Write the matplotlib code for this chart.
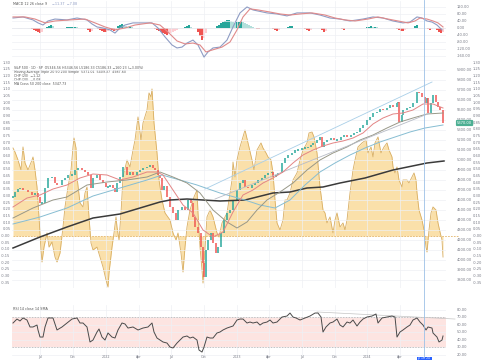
import numpy as np
import matplotlib
matplotlib.use("Agg")
import matplotlib.pyplot as plt
from matplotlib.lines import Line2D
from matplotlib.patches import Rectangle

# ---- data (day index ~ trading bar) ----
candle_day = [13, 15, 18, 20, 23, 28, 32, 35, 38, 40, 42, 45, 48, 52, 55, 57, 62, 65, 68, 72,
              75, 78, 82, 85, 88, 91, 93, 97, 100, 103, 106, 108, 110, 113, 115, 117, 120, 123, 127, 130,
              133, 137, 140, 143, 147, 150, 153, 155, 158, 160, 162, 164, 167, 170, 173, 176, 178, 182, 185, 188,
              191, 193, 195, 198, 201, 203, 204, 206, 208, 211, 213, 216, 218, 221, 224, 227, 230, 233, 237, 240,
              243, 245, 248, 252, 255, 258, 262, 265, 268, 272, 273, 276, 278, 282, 285, 288, 292, 295, 298, 302,
              305, 308, 311, 313, 317, 320, 322, 324, 327, 331, 334, 337, 341, 344, 347, 351, 354, 357, 360, 363,
              367, 370, 373, 377, 380, 383, 387, 390, 393, 397, 398, 399, 402, 403, 407, 410, 413, 417, 419, 422,
              425, 427, 428, 431, 433, 436, 438, 440, 443]
candle_close = [4630, 4680, 4710, 4720, 4700, 4680, 4650, 4670, 4630, 4570, 4570, 4720, 4820, 4830, 4770, 4750, 4800, 4820, 4850, 4850,
                4900, 4920, 4900, 4880, 4850, 4720, 4820, 4850, 4800, 4770, 4730, 4730, 4750, 4720, 4680, 4770, 4830, 4930, 4850, 4880,
                4850, 4880, 4900, 4920, 4930, 4950, 4920, 4900, 4850, 4820, 4700, 4740, 4630, 4530, 4470, 4400, 4500, 4530, 4500, 4600,
                4570, 4430, 4330, 4270, 4130, 3970, 3830, 4100, 4200, 4270, 4170, 4070, 4130, 4270, 4400, 4470, 4500, 4600, 4700, 4770,
                4800, 4730, 4720, 4750, 4770, 4800, 4820, 4850, 4870, 4880, 4830, 4850, 4870, 4970, 5020, 5050, 5070, 5100, 5100, 5120,
                5120, 5130, 5150, 5170, 5200, 5230, 5130, 5180, 5200, 5220, 5200, 5200, 5230, 5250, 5230, 5250, 5270, 5280, 5320, 5350,
                5400, 5430, 5470, 5480, 5510, 5500, 5520, 5550, 5530, 5570, 5580, 5380, 5450, 5500, 5520, 5530, 5570, 5680, 5670, 5630,
                5570, 5620, 5470, 5570, 5650, 5580, 5530, 5500, 5370]

ma20_day = [13, 27, 40, 53, 67, 80, 93, 107, 120, 133, 147, 157, 163, 173, 183, 193, 203, 213, 223, 233, 243,
            253, 263, 273, 283, 293, 303, 313, 323, 333, 343, 353, 363, 373, 383, 393, 403, 413, 423, 433, 443]
ma20 = [4530, 4620, 4650, 4710, 4750, 4820, 4860, 4850, 4800, 4830, 4880, 4880, 4850, 4700, 4550, 4470, 4300, 4230, 4280, 4480, 4650,
        4700, 4770, 4820, 4880, 4970, 5050, 5100, 5140, 5170, 5190, 5220, 5270, 5360, 5420, 5460, 5470, 5500, 5560, 5560, 5520]

ma50_day = [13, 33, 53, 67, 87, 107, 127, 147, 160, 173, 187, 200, 213, 227, 237, 247, 257, 267, 280, 293, 307,
            320, 333, 347, 360, 373, 387, 400, 413, 427, 443]
ma50 = [4420, 4520, 4600, 4630, 4750, 4780, 4800, 4830, 4880, 4830, 4770, 4670, 4500, 4380, 4320, 4380, 4500, 4600, 4680, 4770, 4900,
        5000, 5070, 5130, 5200, 5250, 5320, 5380, 5420, 5460, 5470]

ma100_day = [13, 40, 67, 93, 120, 147, 162, 180, 197, 220, 245, 260, 275, 290, 305, 320, 335, 350, 365, 380, 395, 410, 425, 443]
ma100 = [4360, 4430, 4520, 4640, 4720, 4800, 4850, 4800, 4750, 4670, 4600, 4550, 4520, 4600, 4750, 4880, 4970, 5050, 5120, 5180,
         5230, 5280, 5320, 5350]

ma200_day = [13, 40, 67, 93, 120, 140, 160, 170, 187, 203, 220, 245, 257, 273, 290, 307, 323, 340, 365, 393, 427, 444]
ma200 = [4120, 4230, 4330, 4420, 4460, 4520, 4580, 4600, 4610, 4600, 4590, 4600, 4630, 4670, 4680, 4720, 4730, 4770, 4820, 4900,
         4970, 4990]

chan_up_day = [205, 432]
chan_up = [4710, 5780]
chan_mid_day = [215, 430]
chan_mid = [4610, 5470]

osc_day = [13, 15, 18, 21, 23, 25, 28, 32, 33, 35, 37, 39, 41, 42, 44, 47, 49, 52, 55, 57, 60, 63, 65, 68, 71, 73, 74, 76, 77, 80,
           83, 85, 87, 89, 91, 93, 97, 100, 103, 106, 108, 109, 112, 114, 116, 117, 119, 121, 123, 127, 130, 133, 135, 138, 141, 143,
           147, 149, 151, 152, 154, 157, 159, 162, 165, 170, 173, 176, 178, 181, 183, 185, 187, 190, 194, 197, 198, 200, 202, 203,
           205, 207, 210, 213, 217, 219, 222, 225, 227, 229, 232, 233, 235, 237, 240, 243, 245, 248, 252, 254, 257, 261, 263, 266,
           268, 271, 273, 275, 277, 280, 283, 285, 287, 290, 293, 297, 300, 303, 307, 309, 312, 314, 317, 320, 323, 325, 327, 330,
           333, 335, 337, 340, 343, 345, 347, 350, 353, 355, 358, 362, 366, 368, 371, 373, 375, 378, 381, 384, 387, 389, 392, 393,
           395, 397, 399, 402, 403, 407, 409, 412, 414, 416, 417, 419, 422, 424, 426, 427, 429, 431, 433, 436, 438, 440, 442, 443]
osc_val = [0.66, 0.63, 0.57, 0.495, 0.668, 0.548, 0.495, 0.57, 0.593, 0.495, 0.368, 0.143, -0.105, -0.195, -0.083, 0.023, -0.083,
           -0.045, -0.158, -0.195, -0.128, 0.068, 0.218, 0.368, 0.495, 0.668, 0.735, 0.66, 0.443, 0.248,
           0.218, 0.323, 0.368, 0.143, -0.053, -0.105, -0.083, -0.158, -0.233, -0.33, -0.383, -0.278, -0.083, 0.023, 0.143, 0.068,
           -0.03, 0.173, 0.443, 0.57, 0.518, 0.645, 0.72, 0.893, 0.72, 0.848,
           0.945, 1.073, 1.043, 1.103, 0.848, 0.623, 0.42, 0.27, 0.173, 0.12, 0.023, -0.03, 0.023, -0.128, -0.27, -0.083, 0.068, 0.195,
           0.293, 0.345, 0.173, -0.083, -0.255, -0.353,
           -0.083, 0.143, 0.195, 0.143, 0.023, -0.008, 0.098, 0.143, 0.173, 0.27, 0.42, 0.555, 0.443, 0.57, 0.668, 0.743, 0.795, 0.698,
           0.57, 0.495, 0.645, 0.698, 0.66, 0.623,
           0.593, 0.57, 0.473, 0.27, 0.098, 0.045, 0.12, 0.27, 0.27, 0.323, 0.42, 0.473, 0.57, 0.645, 0.698, 0.773, 0.78, 0.743, 0.623,
           0.368, 0.195, 0.173, 0.098, 0.143,
           0.023, 0.12, 0.173, 0.068, 0.098, 0.045, 0.12, 0.323, 0.495, 0.57, 0.668, 0.698, 0.72, 0.623, 0.668, 0.593, 0.698, 0.743,
           0.623, 0.668, 0.698, 0.645, 0.593, 0.518,
           0.473, 0.518, 0.42, 0.368, 0.42, 0.42, 0.398, 0.443, 0.473, 0.42, 0.323, 0.195, 0.12, 0.045, -0.083, -0.12, 0.045, 0.173,
           0.218, 0.195, 0.098, 0.03, -0.03, -0.158]

macd_day = [13, 23, 33, 38, 43, 48, 55, 67, 77, 87, 92, 97, 103, 110, 115, 120, 125, 133, 143, 152, 158, 165, 172, 177, 182,
            187, 193, 198, 202, 204, 208, 213, 220, 227, 233, 240, 247, 253, 267, 277, 287, 297, 310, 320, 330, 340, 350, 363,
            373, 383, 393, 403, 410, 417, 422, 427, 432, 437, 442]
macd = [57, 63, 46, 29, 17, 40, 51, 46, 57, 46, 23, 6, 0, -11, -29, 0, 17, 29, 29, 29, 0, -51, -97, -114, -109,
        -86, -69, -97, -143, -166, -137, -114, -109, -69, 6, 86, 120, 103, 86, 80, 69, 86, 86, 74, 57, 51, 40, 51,
        63, 57, 40, 29, 34, 63, 57, 40, 34, 17, -11]
signal_day = [13, 25, 35, 45, 55, 70, 85, 95, 105, 115, 125, 135, 150, 160, 168, 177, 185, 193, 200, 206, 212, 222, 230, 237,
              243, 250, 258, 270, 280, 290, 300, 312, 325, 335, 345, 355, 368, 378, 388, 398, 408, 415, 420, 427, 433, 438, 443]
signal = [63, 63, 51, 29, 40, 46, 51, 29, 6, -11, 0, 17, 29, 17, -23, -74, -91, -86, -97, -137, -126, -109, -80, -11,
          63, 109, 103, 91, 80, 74, 80, 86, 74, 57, 46, 40, 51, 63, 51, 40, 29, 40, 57, 51, 40, 29, 6]

hist_day = [32, 34, 36, 38, 40, 42, 47, 49, 51, 53, 67, 69, 71, 73, 75, 77, 88, 90, 92,
            98, 100, 102, 104, 106, 108, 110, 112, 114, 116, 118, 120, 122, 124, 126, 128, 130, 132,
            155, 157, 159, 161, 163, 165, 167, 169, 171, 173, 175, 177, 185, 187, 189, 191,
            198, 200, 202, 204, 206, 217, 219, 221, 223, 225, 227, 229, 231, 233, 235, 237, 239, 241, 243, 245,
            247, 249, 251, 253, 257, 259, 273, 275, 277, 279, 288, 290, 292, 305, 307, 309, 311, 322, 324, 326,
            342, 344, 367, 369, 371, 373, 375, 377, 397, 399, 401, 403, 405, 407, 415, 417, 428, 430, 432,
            437, 439, 441, 443]
hist = [-6, -11, -17, -23, -29, -23, 6, 11, 17, 11, 3, 6, 6, 6, 6, 3, -11, -23, -17,
        -6, -11, -17, -23, -23, -17, -11, -11, -17, -11, 11, 17, 23, 17, 11, 6, 6, 3,
        -6, -11, -17, -23, -29, -34, -40, -34, -29, -23, -17, -11, 6, 11, 17, 6,
        -23, -46, -69, -57, -29, 11, 17, 29, 34, 40, 46, 46, 40, 34, 29, 34, 34, 40, 34, 29,
        23, 17, 11, 6, -6, -6, -6, -11, -17, -11, 6, 11, 11, -6, -11, -17, -11, -11, -23, -17,
        -6, -11, 6, 6, 11, 6, 6, 3, -6, -11, -17, -17, -11, -6, 11, 17, -6, -11, -6,
        -11, -23, -29, -23]

rsi_day = [13, 17, 20, 23, 27, 30, 33, 37, 38, 40, 43, 45, 48, 53, 57, 62, 67, 72, 77, 80, 83, 87, 90, 93, 97, 99, 102, 105,
           108, 112, 115, 118, 122, 125, 128, 133, 138, 143, 148, 152, 154, 157, 160, 163, 167, 170, 173, 177, 180, 183, 187,
           190, 193, 197, 199, 202, 204, 207, 210, 213, 217, 220, 223, 227, 230, 233, 237, 240, 243, 247, 250, 253, 257, 260,
           263, 267, 270, 273, 277, 282, 287, 290, 293, 296, 300, 305, 310, 315, 318, 321, 323, 326, 330, 333, 337, 340, 343,
           347, 350, 353, 357, 360, 363, 367, 372, 376, 378, 382, 387, 392, 395, 397, 400, 403, 407, 410, 413, 417, 420, 423,
           426, 428, 432, 433, 437, 439, 442, 443]
rsi = [62, 67.3, 64.7, 68.7, 66, 56.7, 56.7, 59.3, 52.7, 43.3, 43.3, 56.7, 68.7, 68.7, 52.7, 56.7, 62, 67.3, 68.7, 62, 62,
       56.7, 36.7, 39.3, 50, 54, 43.3, 39.3, 48.7, 43.3, 42, 52.7, 62, 60.7, 55.3, 56.7, 52.7, 55.3, 56.7, 62, 50, 42, 39.3,
       36.7, 35.3, 30, 28.7, 35.3, 39.3, 43.3, 44.7, 42, 43.3, 39.3, 26, 23.3, 30, 43.3, 42, 42, 48.7, 50, 52.7, 55.3, 56.7,
       58, 66, 67.3, 67.3, 62, 63.3, 62, 63.3, 59.3, 62, 63.3, 66, 62, 63.3, 70, 71.3, 75.3, 70, 68.7, 66, 68.7, 71.3, 75.3,
       75.3, 70, 50, 56.7, 62, 63.3, 67.3, 59.3, 56.7, 63.3, 62, 66, 58, 63.3, 67.3, 70, 71.3, 74, 62, 68.7, 70, 71.3, 70,
       43.3, 50, 52.7, 56.7, 59.3, 66, 68.7, 63.3, 59.3, 52.7, 56.7, 55.3, 48.7, 43.3, 36.7, 39.3, 44.7]
rsi_trend_day = [317, 455]
rsi_trend = [76.7, 67.3]

osc_ticks = np.round(np.arange(-0.35, 1.31, 0.05), 2)
price_ticks = np.arange(3800, 6000, 100)
macd_ticks = [120, 80, 40, 0, -40, -80, -120, -160]
rsi_ticks = [80, 70, 60, 50, 40, 30, 20]
date_day = [40, 73, 106, 139, 171, 204, 237, 269, 302, 335, 367, 400]
date_lbl = ["Jul", "Oct", "2022", "Apr", "Jul", "Oct", "2023", "Apr", "Jul", "Oct", "2024", "Apr"]
cursor_day = 424

# ---- layout helpers ----
W, H = 485, 360
GREEN, RED = "#26a69a", "#ef5350"
GRID = "#eef0f4"
LBL = "#787b86"


def rect(x0, y0, x1, y1):
    return [x0 / W, 1 - y1 / H, (x1 - x0) / W, (y1 - y0) / H]


def bare(ax):
    for s in ax.spines.values():
        s.set_visible(False)
    ax.tick_params(length=0, labelleft=False, labelright=False, labelbottom=False)
    ax.set_xlim(12, 446)


def right_labels(ax, ticks, fmt, xpx=457):
    xa = (xpx - 12) / 434
    for t in ticks:
        ax.text(xa, t, fmt.format(t), transform=ax.get_yaxis_transform(),
                fontsize=2.6, color=LBL, ha="left", va="center", clip_on=False)


fig = plt.figure(figsize=(W / 100, H / 100), dpi=100)
fig.patch.set_facecolor("white")

# ---- MACD panel ----
axm = fig.add_axes(rect(12, 1, 446, 59))
bare(axm)
axm.set_ylim(-177, 154)
axm.set_xticks(date_day)
axm.set_yticks(macd_ticks)
axm.grid(color=GRID, lw=0.5)
cols = []
for i, h in enumerate(hist):
    prev = hist[i - 1] if i > 0 and hist_day[i] - hist_day[i - 1] <= 3 else 0
    if h >= 0:
        cols.append(GREEN if h >= prev else "#b2dfdb")
    else:
        cols.append(RED if h <= prev else "#ffcdd2")
axm.bar(hist_day, hist, width=1.8, color=cols, lw=0)
axm.axhline(0, color="#d1d4dc", lw=0.4, ls=(0, (1, 1)))
axm.plot(macd_day, macd, color="#8e9cc4", lw=0.8)
axm.plot(signal_day, signal, color="#e08a8a", lw=0.8)
right_labels(axm, macd_ticks, "{:.2f}")
axm.text(13, 147, "MACD 12 26 close 9", fontsize=2.4, color="#555", va="top")
axm.text(52, 147, "\u221211.37  \u22127.08", fontsize=2.4, color="#8e9cc4", va="top")

# ---- main panel: oscillator (back) + price (front) ----
axo = fig.add_axes(rect(12, 60, 446, 288))
bare(axo)
axo.set_ylim(-0.39, 1.32)
axo.set_xticks(date_day)
axo.grid(axis="x", color=GRID, lw=0.5)
axo.fill_between(osc_day, osc_val, 0, color="#fae0aa", lw=0)
axo.plot(osc_day, osc_val, color="#d8ae62", lw=0.6)
axo.plot([13, 459], [0, 0], color="#e3b56a", lw=0.6, ls=(0, (2, 1.5)), clip_on=False)
for t in osc_ticks:
    axo.text(-0.003, t, f"{t:.2f}", transform=axo.get_yaxis_transform(),
             fontsize=2.6, color=LBL, ha="right", va="center", clip_on=False)
right_labels(axo, osc_ticks, "{:.2f}", xpx=473)

axp = axo.twinx()
bare(axp)
axp.set_ylim(3720, 6000)
axp.set_yticks(price_ticks)
axp.grid(axis="y", color=GRID, lw=0.5)
axp.set_axisbelow(True)
right_labels(axp, price_ticks, "{:.2f}")

axp.plot(ma200_day, ma200, color="#3a3a3a", lw=1.1)
axp.plot(ma100_day, ma100, color="#86bdd2", lw=0.7)
axp.plot(ma50_day, ma50, color="#989888", lw=0.7)
axp.plot(chan_up_day, chan_up, color="#a9cfe8", lw=0.6)
axp.plot(chan_mid_day, chan_mid, color="#b8bcc6", lw=0.6)
axp.plot(ma20_day, ma20, color="#e38585", lw=0.7)

opens = [candle_close[0]] + candle_close[:-1]
for d, o, c in zip(candle_day, opens, candle_close):
    col = GREEN if c >= o else RED
    lo, hi = min(o, c), max(o, c)
    axp.bar(d, max(hi - lo, 12), bottom=lo - (6 if hi == lo else 0), width=1.1, color=col, alpha=0.75, lw=0)

last = candle_close[-1]
axp.text((457 - 12) / 434, last, f"{last:.2f}", transform=axp.get_yaxis_transform(),
         fontsize=2.6, color="white", ha="left", va="center", clip_on=False,
         bbox=dict(boxstyle="round,pad=0.3", fc="#4caf93", ec="none"))

legend_lines = [
    ("S&P 500 \u00b7 1D \u00b7 SP  O5346.56 H5346.56 L5186.33 C5186.33 \u2212160.23 (\u22123.00%)", "#555"),
    ("Moving Average Triple 20 50 200 Simple  5371.01  5409.37  4987.60", "#555"),
    ("CHP (20)  \u22121.12", "#555"),
    ("CHP (20)  \u22120.08", "#555"),
    ("MA Cross 50 200 close  5347.73", "#555"),
]
for k, (txt, c) in enumerate(legend_lines):
    axo.text(0.004, 0.975 - k * 0.0175, txt, transform=axo.transAxes, fontsize=2.3, color=c, va="top")

# ---- RSI panel ----
axr = fig.add_axes(rect(12, 305, 446, 357))
bare(axr)
axr.set_ylim(16.7, 86)
axr.set_xticks(date_day)
axr.set_yticks(rsi_ticks)
axr.grid(color=GRID, lw=0.5)
axr.axhspan(30, 70, color="#fde4e1", lw=0)
axr.axhline(70, color="#b0b0b0", lw=0.5, ls=(0, (2, 2)))
axr.axhline(30, color="#b0b0b0", lw=0.5, ls=(0, (2, 2)))
axr.plot(rsi_trend_day, rsi_trend, color="#c4c4c4", lw=0.5, clip_on=False)
axr.plot(rsi_day, rsi, color="#4a4a4a", lw=0.7)
right_labels(axr, rsi_ticks, "{:.2f}")
axr.text(13, 84, "RSI 14 close 14 SMA", fontsize=2.4, color="#555", va="top")

# date labels along bottom
for d, s in zip(date_day, date_lbl):
    fig.text(d / W, 1.2 / H, s, fontsize=2.4, color=LBL, ha="center", va="bottom")

# cursor line + date tag
fig.add_artist(Line2D([cursor_day / W] * 2, [3 / H, 1], transform=fig.transFigure,
                      color="#9cc0e6", lw=0.6))
fig.add_artist(Rectangle(((cursor_day - 7) / W, 0), 15 / W, 3.5 / H, transform=fig.transFigure,
                         fc="#2962ff", ec="none"))
fig.text(cursor_day / W, 1.6 / H, "Jul 16 '24", fontsize=2.0, color="white", ha="center", va="center")

fig.savefig("out.png", dpi=100)
